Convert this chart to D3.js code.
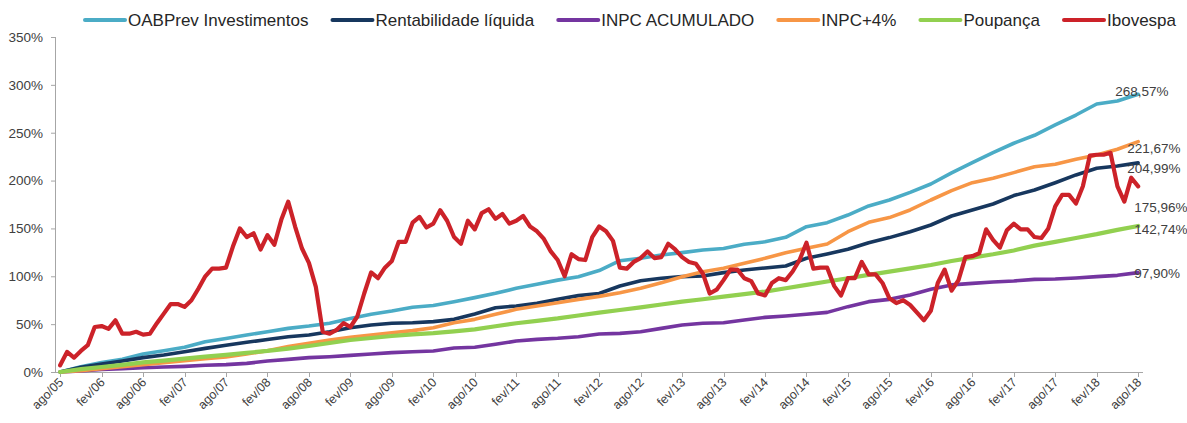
<!DOCTYPE html>
<html><head><meta charset="utf-8">
<script src="https://cdn.jsdelivr.net/npm/d3@7"></script>
<style>
html,body{margin:0;padding:0;background:#fff;}
svg{display:block;font-family:"Liberation Sans",Arial,sans-serif;}
</style></head><body>
<svg id="chart" width="1187" height="423"></svg>
<script>
// ---------------- DATA ----------------
const seriesNames = ["OABPrev Investimentos", "Rentabilidade líquida", "INPC ACUMULADO", "INPC+4%", "Poupança", "Ibovespa"];

// x-axis tick labels, every 6 months starting ago/05 (month index 0) to ago/18 (month index 156)
const xTickLabels = ["ago/05","fev/06","ago/06","fev/07","ago/07","fev/08","ago/08","fev/09","ago/09","fev/10",
  "ago/10","fev/11","ago/11","fev/12","ago/12","fev/13","ago/13","fev/14","ago/14","fev/15",
  "ago/15","fev/16","ago/16","fev/17","ago/17","fev/18","ago/18"];
const yTickValues = [0, 50, 100, 150, 200, 250, 300, 350];

// Smooth series: quarterly readings (every 3 months from ago/05), in %
const oabprev = [0,5.5,10,13.2,18.8,22.3,25.8,31.7,35,38.7,42,45.6,48,50.9,56,60.3,63.7,67.6,69.5,73.5,
  77.7,82.2,87.4,91.6,96,99.6,106,116.3,118.8,122.3,124.7,127.5,129,133.4,136,140.7,151.8,156,164,173.5,
  179.7,187.7,196.4,208,218.7,229.2,239,247.3,258.1,268.5,280,283.2,290.2];
const rentabilidade = [0,4.9,8.4,11.5,15,17.8,21.2,24.7,28,31,34,36.9,38.7,42.1,46.3,49.1,50.9,51.5,52.6,55,
  60.6,67.2,69,71.7,76,79.8,82,89.9,95.4,97.9,99.6,100.3,103.8,106.6,108.7,110.8,118.8,123.3,128.2,135.1,
  140.4,146.6,153.6,163,169.3,175.5,184.3,190.2,197.8,205.9,212.8,215.3,218.5];
const inpc = [0,1.2,2.6,3.5,4.5,5.2,5.9,7,7.7,9,11.5,13.2,15,16,17.4,18.8,20.2,21.2,22,25,
  25.8,28.9,32.4,34.1,35.2,36.9,39.7,40.4,42.1,45.6,49.1,50.9,51.5,54.3,57.1,58.5,60.3,62.3,68.3,73.5,
  75.9,80.5,86.4,91,92.6,94,95.1,96.8,97.2,98.2,99.6,101,103.8];
const inpc4 = [0,1.4,3.5,5.6,7.7,9.8,11.8,14,15.7,18.8,22.3,26.5,30,33.4,36.2,38.7,41,43.2,46.3,51.5,
  55,60.3,65.5,69,72.4,75.9,79,82.9,87.4,93.3,99.6,104.8,108.3,113.6,118.8,124.7,129.2,133.8,146.6,156.4,
  161.3,169.3,179.7,189.5,197.8,202.4,208.3,214.5,217,222.2,226.7,232.7,240.7];
const poupanca = [0,3,5.2,7.5,10,11.8,14,16,17.8,20,22,24.5,27.2,30.3,33.4,35.5,37.6,39.4,40.6,42.5,
  44.6,47.8,50.9,53.5,56,59,62,64.8,67.6,70.5,73.5,76,78.7,81.3,84,87.5,91,94.5,97.9,101.4,
  104.8,108.3,111.8,116,119.5,123,127,132,136,140,144,148.5,152.6];
// Ibovespa: monthly readings, in %
const ibovespa = [7,21,15,22,28,47,48,45,54,40,40,42,39,40,51,61,71,71,68,75,
  87,100,108,108,109,131,150,141,145,128,143,133,159,178,152,129,114,89,42,40,
  44,51,47,58,82,104,98,109,116,136,136,156,162,151,155,169,158,141,134,158,
  149,166,170,160,165,155,158,163,152,147,139,126,117,100,123,118,117,141,152,147,
  137,109,108,115,119,126,119,120,134,128,120,115,113,103,82,86,96,107,107,98,
  95,82,80,93,98,96,105,117,135,108,109,109,90,80,98,98,115,102,102,93,
  77,72,75,70,62,54,64,93,107,85,96,120,121,124,149,138,130,148,155,149,
  149,141,140,150,173,185,185,176,194,226,227,227,229,194,178,203,194];
// end-of-series data labels (as printed in the chart)
const endLabels = ["268,57%", "204,99%", "97,90%", "221,67%", "142,74%", "175,96%"];

// ---------------- STYLE / LAYOUT ----------------
const colors = ["#4BACC6", "#17375E", "#7435A0", "#F79646", "#92D050", "#CC2229"];
const widths = [3.6, 3.6, 3.6, 3.6, 4.2, 4.2];
const labelOffsets = [[-23,-3],[-11,5.5],[-4,1],[-11,7],[-4,3.5],[-4,21]];

const svg = d3.select("#chart");
const W = 1187, H = 423;
const plotLeft = 56, plotRight = 1143, plotTop = 37, plotBottom = 372;
const x = d3.scaleLinear().domain([-0.6, 156.7]).range([plotLeft, plotRight]);
const y = d3.scaleLinear().domain([0, 350]).range([plotBottom, plotTop]);

const quarterly = [oabprev, rentabilidade, inpc, inpc4, poupanca];
const series = seriesNames.map((name, k) => {
  const vals = k < 5 ? quarterly[k] : ibovespa;
  const step = k < 5 ? 3 : 1;
  return {name, color: colors[k], width: widths[k], label: endLabels[k], off: labelOffsets[k],
    points: vals.map((v, i) => ({m: i * step, v}))};
});

// Y axis
const yAxis = svg.append("g").attr("transform", `translate(${plotLeft},0)`)
  .call(d3.axisLeft(y).tickValues(yTickValues).tickSize(5).tickPadding(8).tickFormat(d => d + "%"));
yAxis.select(".domain").attr("stroke", "#A6A6A6").attr("d", `M-0.5,${plotTop}V${plotBottom}`);
yAxis.selectAll(".tick line").attr("stroke", "#A6A6A6");
yAxis.selectAll(".tick text").attr("fill", "#404040").style("font-size", "13.5px");

// X axis
const xg = svg.append("g");
xg.append("line").attr("x1", plotLeft).attr("x2", plotRight).attr("y1", plotBottom + 0.5).attr("y2", plotBottom + 0.5)
  .attr("stroke", "#A6A6A6");
const tickIdx = xTickLabels.map((l, i) => i * 6);
xg.selectAll("line.tk").data(tickIdx).join("line").attr("class", "tk")
  .attr("x1", d => Math.round(x(d)) + 0.5).attr("x2", d => Math.round(x(d)) + 0.5)
  .attr("y1", plotBottom).attr("y2", plotBottom + 5).attr("stroke", "#A6A6A6");
xg.selectAll("text").data(xTickLabels).join("text")
  .attr("transform", (d, i) => `translate(${x(i * 6) + 4},${plotBottom + 11}) rotate(-45)`)
  .attr("text-anchor", "end").attr("fill", "#404040").style("font-size", "12.5px").text(d => d);

// Lines
const line = d3.line().x(d => x(d.m)).y(d => y(d.v));
svg.append("g").selectAll("path").data(series).join("path")
  .attr("d", d => line(d.points)).attr("fill", "none")
  .attr("stroke", d => d.color).attr("stroke-width", d => d.width)
  .attr("stroke-linejoin", "round").attr("stroke-linecap", "round");

// End labels
svg.append("g").selectAll("text").data(series).join("text")
  .attr("x", d => x(d.points[d.points.length - 1].m) + d.off[0])
  .attr("y", d => y(d.points[d.points.length - 1].v) + d.off[1])
  .attr("dy", "0.35em").attr("fill", "#404040").style("font-size", "13.5px").text(d => d.label);

// Legend
const lg = svg.append("g").attr("transform", "translate(0,20)");
const items = lg.selectAll("g").data(series).join("g");
items.append("line").attr("x1", 0).attr("x2", 40).attr("y1", 0).attr("y2", 0)
  .attr("stroke", d => d.color).attr("stroke-width", 4).attr("stroke-linecap", "round");
items.append("text").attr("x", 43).attr("dy", "0.35em").attr("fill", "#262626")
  .style("font-size", "17px").text(d => d.name);
const iw = [];
items.each(function() { iw.push(43 + this.querySelector("text").getComputedTextLength()); });
const gap = 24;
const total = d3.sum(iw) + gap * (iw.length - 1);
let cx = 630.5 - total / 2;
items.attr("transform", (d, i) => { const t = `translate(${cx},0)`; cx += iw[i] + gap; return t; });
</script>
</body></html>
